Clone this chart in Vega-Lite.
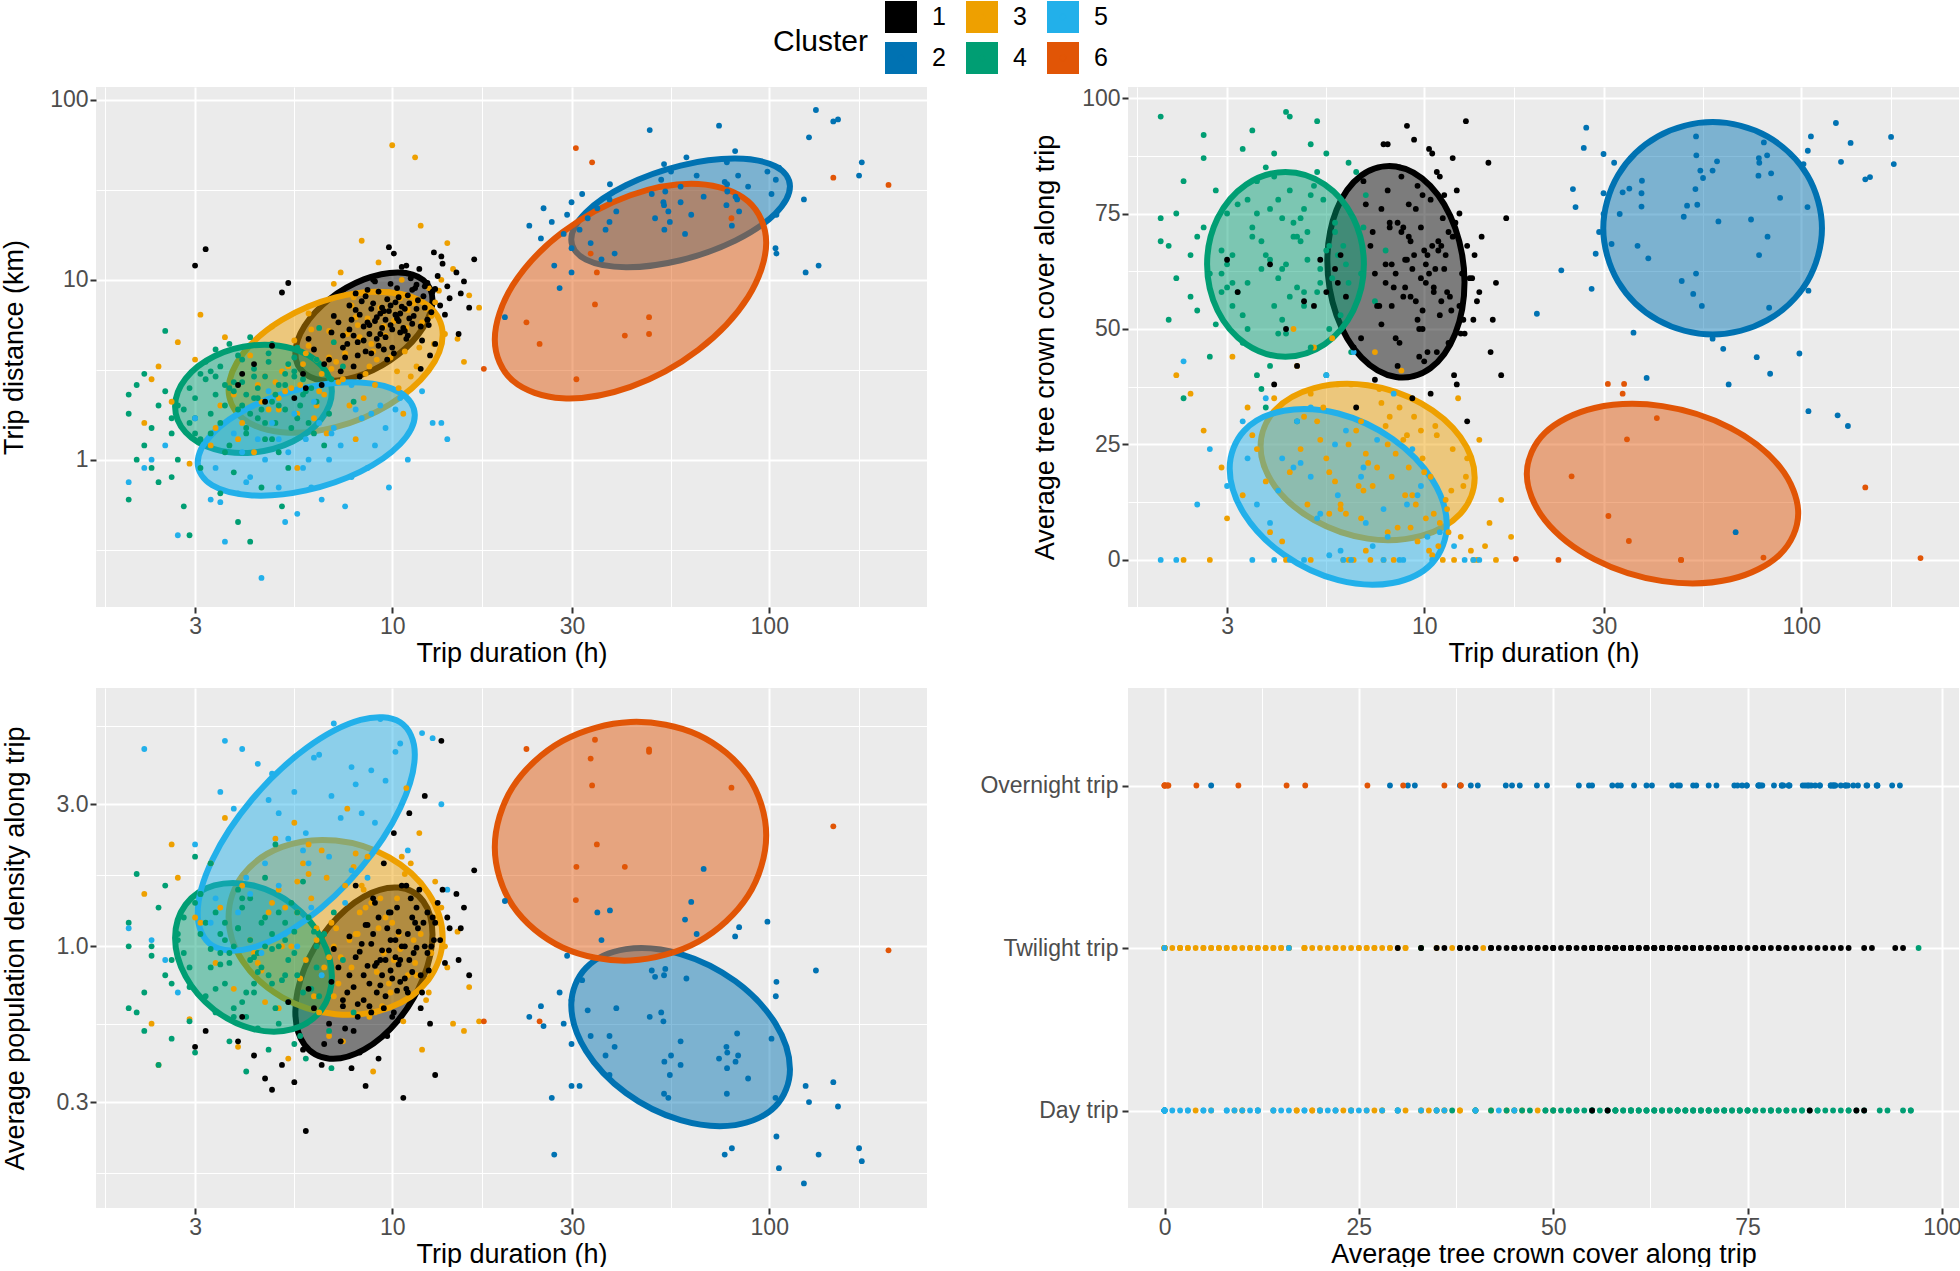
{
"$schema": "https://vega.github.io/schema/vega-lite/v6.json",
"background": "#FFFFFF",
"padding": {"left": 0, "top": 1, "right": 0, "bottom": 0},
"autosize": {"type": "pad"},
"columns": 2,
"spacing": {"row": 81, "column": 201},
"bounds": "flush",
"datasets": {
"ellA": [
{"cl":"1","i":0,"dur":12.79,"km":7.717},{"cl":"1","i":1,"dur":12.09,"km":9.98},{"cl":"1","i":2,"dur":10.38,"km":11.0},{"cl":"1","i":3,"dur":8.414,"km":10.06},{"cl":"1","i":4,"dur":6.823,"km":7.824},{"cl":"1","i":5,"dur":5.853,"km":5.533},{"cl":"1","i":6,"dur":5.534,"km":3.904},{"cl":"1","i":7,"dur":5.853,"km":3.017},{"cl":"1","i":8,"dur":6.823,"km":2.737},{"cl":"1","i":9,"dur":8.414,"km":2.993},{"cl":"1","i":10,"dur":10.38,"km":3.85},{"cl":"1","i":11,"dur":12.09,"km":5.445},
{"cl":"2","i":0,"dur":113.5,"km":33.11},{"cl":"2","i":1,"dur":103.8,"km":42.83},{"cl":"2","i":2,"dur":81.28,"km":47.21},{"cl":"2","i":3,"dur":58.21,"km":43.18},{"cl":"2","i":4,"dur":41.69,"km":33.57},{"cl":"2","i":5,"dur":32.66,"km":23.74},{"cl":"2","i":6,"dur":29.85,"km":16.75},{"cl":"2","i":7,"dur":32.66,"km":12.95},{"cl":"2","i":8,"dur":41.69,"km":11.75},{"cl":"2","i":9,"dur":58.21,"km":12.85},{"cl":"2","i":10,"dur":81.28,"km":16.52},{"cl":"2","i":11,"dur":103.8,"km":23.36},
{"cl":"3","i":0,"dur":13.61,"km":4.95},{"cl":"3","i":1,"dur":12.47,"km":7.155},{"cl":"3","i":2,"dur":9.817,"km":8.525},{"cl":"3","i":3,"dur":7.079,"km":7.992},{"cl":"3","i":4,"dur":5.105,"km":5.996},{"cl":"3","i":5,"dur":4.019,"km":3.889},{"cl":"3","i":6,"dur":3.681,"km":2.448},{"cl":"3","i":7,"dur":4.019,"km":1.693},{"cl":"3","i":8,"dur":5.105,"km":1.421},{"cl":"3","i":9,"dur":7.079,"km":1.516},{"cl":"3","i":10,"dur":9.817,"km":2.021},{"cl":"3","i":11,"dur":12.47,"km":3.116},
{"cl":"4","i":0,"dur":6.918,"km":2.399},{"cl":"4","i":1,"dur":6.487,"km":3.337},{"cl":"4","i":2,"dur":5.445,"km":4.14},{"cl":"4","i":3,"dur":4.285,"km":4.323},{"cl":"4","i":4,"dur":3.373,"km":3.756},{"cl":"4","i":5,"dur":2.831,"km":2.82},{"cl":"4","i":6,"dur":2.655,"km":1.976},{"cl":"4","i":7,"dur":2.831,"km":1.42},{"cl":"4","i":8,"dur":3.373,"km":1.144},{"cl":"4","i":9,"dur":4.285,"km":1.096},{"cl":"4","i":10,"dur":5.445,"km":1.261},{"cl":"4","i":11,"dur":6.487,"km":1.68},
{"cl":"5","i":0,"dur":11.48,"km":1.769},{"cl":"5","i":1,"dur":10.5,"km":2.361},{"cl":"5","i":2,"dur":8.241,"km":2.687},{"cl":"5","i":3,"dur":5.916,"km":2.52},{"cl":"5","i":4,"dur":4.246,"km":1.981},{"cl":"5","i":5,"dur":3.332,"km":1.392},{"cl":"5","i":6,"dur":3.048,"km":0.9614},{"cl":"5","i":7,"dur":3.332,"km":0.7204},{"cl":"5","i":8,"dur":4.246,"km":0.6329},{"cl":"5","i":9,"dur":5.916,"km":0.6749},{"cl":"5","i":10,"dur":8.241,"km":0.8584},{"cl":"5","i":11,"dur":10.5,"km":1.222},
{"cl":"6","i":0,"dur":98.17,"km":16.08},{"cl":"6","i":1,"dur":87.86,"km":27.34},{"cl":"6","i":2,"dur":64.86,"km":34.16},{"cl":"6","i":3,"dur":42.85,"km":29.55},{"cl":"6","i":4,"dur":28.31,"km":18.4},{"cl":"6","i":5,"dur":20.9,"km":9.363},{"cl":"6","i":6,"dur":18.71,"km":4.665},{"cl":"6","i":7,"dur":20.9,"km":2.743},{"cl":"6","i":8,"dur":28.31,"km":2.195},{"cl":"6","i":9,"dur":42.85,"km":2.537},{"cl":"6","i":10,"dur":64.86,"km":4.075},{"cl":"6","i":11,"dur":87.86,"km":8.009}
],
"ellB": [
{"cl":"1","i":0,"dur":12.79,"tree":60.1},{"cl":"1","i":1,"dur":12.09,"tree":71.8},{"cl":"1","i":2,"dur":10.38,"tree":81.0},{"cl":"1","i":3,"dur":8.414,"tree":85.2},{"cl":"1","i":4,"dur":6.823,"tree":83.3},{"cl":"1","i":5,"dur":5.853,"tree":75.8},{"cl":"1","i":6,"dur":5.534,"tree":64.7},{"cl":"1","i":7,"dur":5.853,"tree":53.0},{"cl":"1","i":8,"dur":6.823,"tree":43.8},{"cl":"1","i":9,"dur":8.414,"tree":39.6},{"cl":"1","i":10,"dur":10.38,"tree":41.5},{"cl":"1","i":11,"dur":12.09,"tree":49.0},
{"cl":"2","i":0,"dur":113.5,"tree":71.8},{"cl":"2","i":1,"dur":103.8,"tree":83.3},{"cl":"2","i":2,"dur":81.28,"tree":91.7},{"cl":"2","i":3,"dur":58.21,"tree":94.8},{"cl":"2","i":4,"dur":41.69,"tree":91.7},{"cl":"2","i":5,"dur":32.66,"tree":83.3},{"cl":"2","i":6,"dur":29.85,"tree":71.8},{"cl":"2","i":7,"dur":32.66,"tree":60.3},{"cl":"2","i":8,"dur":41.69,"tree":51.9},{"cl":"2","i":9,"dur":58.21,"tree":48.8},{"cl":"2","i":10,"dur":81.28,"tree":51.9},{"cl":"2","i":11,"dur":103.8,"tree":60.3},
{"cl":"3","i":0,"dur":13.61,"tree":17.8},{"cl":"3","i":1,"dur":12.47,"tree":26.6},{"cl":"3","i":2,"dur":9.817,"tree":33.9},{"cl":"3","i":3,"dur":7.079,"tree":37.8},{"cl":"3","i":4,"dur":5.105,"tree":37.2},{"cl":"3","i":5,"dur":4.019,"tree":32.4},{"cl":"3","i":6,"dur":3.681,"tree":24.6},{"cl":"3","i":7,"dur":4.019,"tree":15.9},{"cl":"3","i":8,"dur":5.105,"tree":8.6},{"cl":"3","i":9,"dur":7.079,"tree":4.6},{"cl":"3","i":10,"dur":9.817,"tree":5.2},{"cl":"3","i":11,"dur":12.47,"tree":10.0},
{"cl":"4","i":0,"dur":6.918,"tree":64.0},{"cl":"4","i":1,"dur":6.487,"tree":74.0},{"cl":"4","i":2,"dur":5.445,"tree":81.3},{"cl":"4","i":3,"dur":4.285,"tree":84.0},{"cl":"4","i":4,"dur":3.373,"tree":81.3},{"cl":"4","i":5,"dur":2.831,"tree":74.0},{"cl":"4","i":6,"dur":2.655,"tree":64.0},{"cl":"4","i":7,"dur":2.831,"tree":54.0},{"cl":"4","i":8,"dur":3.373,"tree":46.7},{"cl":"4","i":9,"dur":4.285,"tree":44.0},{"cl":"4","i":10,"dur":5.445,"tree":46.7},{"cl":"4","i":11,"dur":6.487,"tree":54.0},
{"cl":"5","i":0,"dur":11.48,"tree":7.6},{"cl":"5","i":1,"dur":10.5,"tree":17.4},{"cl":"5","i":2,"dur":8.241,"tree":26.2},{"cl":"5","i":3,"dur":5.916,"tree":31.7},{"cl":"5","i":4,"dur":4.246,"tree":32.3},{"cl":"5","i":5,"dur":3.332,"tree":28.0},{"cl":"5","i":6,"dur":3.048,"tree":19.8},{"cl":"5","i":7,"dur":3.332,"tree":9.9},{"cl":"5","i":8,"dur":4.246,"tree":1.1},{"cl":"5","i":9,"dur":5.916,"tree":-4.4},{"cl":"5","i":10,"dur":8.241,"tree":-5.0},{"cl":"5","i":11,"dur":10.5,"tree":-0.7},
{"cl":"6","i":0,"dur":98.17,"tree":10.1},{"cl":"6","i":1,"dur":87.86,"tree":20.1},{"cl":"6","i":2,"dur":64.86,"tree":28.6},{"cl":"6","i":3,"dur":42.85,"tree":33.3},{"cl":"6","i":4,"dur":28.31,"tree":32.9},{"cl":"6","i":5,"dur":20.9,"tree":27.5},{"cl":"6","i":6,"dur":18.71,"tree":18.6},{"cl":"6","i":7,"dur":20.9,"tree":8.6},{"cl":"6","i":8,"dur":28.31,"tree":0.1},{"cl":"6","i":9,"dur":42.85,"tree":-4.6},{"cl":"6","i":10,"dur":64.86,"tree":-4.2},{"cl":"6","i":11,"dur":87.86,"tree":1.2}
],
"ellC": [
{"cl":"1","i":0,"dur":12.79,"pop":1.096},{"cl":"1","i":1,"dur":12.09,"pop":1.416},{"cl":"1","i":2,"dur":10.38,"pop":1.576},{"cl":"1","i":3,"dur":8.414,"pop":1.47},{"cl":"1","i":4,"dur":6.823,"pop":1.169},{"cl":"1","i":5,"dur":5.853,"pop":0.8443},{"cl":"1","i":6,"dur":5.534,"pop":0.6035},{"cl":"1","i":7,"dur":5.853,"pop":0.4672},{"cl":"1","i":8,"dur":6.823,"pop":0.4197},{"cl":"1","i":9,"dur":8.414,"pop":0.4499},{"cl":"1","i":10,"dur":10.38,"pop":0.5655},{"cl":"1","i":11,"dur":12.09,"pop":0.7834},
{"cl":"2","i":0,"dur":113.5,"pop":0.3871},{"cl":"2","i":1,"dur":103.8,"pop":0.5514},{"cl":"2","i":2,"dur":81.28,"pop":0.7641},{"cl":"2","i":3,"dur":58.21,"pop":0.9426},{"cl":"2","i":4,"dur":41.69,"pop":0.9788},{"cl":"2","i":5,"dur":32.66,"pop":0.8472},{"cl":"2","i":6,"dur":29.85,"pop":0.6352},{"cl":"2","i":7,"dur":32.66,"pop":0.4457},{"cl":"2","i":8,"dur":41.69,"pop":0.3218},{"cl":"2","i":9,"dur":58.21,"pop":0.2608},{"cl":"2","i":10,"dur":81.28,"pop":0.2511},{"cl":"2","i":11,"dur":103.8,"pop":0.2902},
{"cl":"3","i":0,"dur":13.61,"pop":1.068},{"cl":"3","i":1,"dur":12.47,"pop":1.51},{"cl":"3","i":2,"dur":9.817,"pop":1.989},{"cl":"3","i":3,"dur":7.079,"pop":2.266},{"cl":"3","i":4,"dur":5.105,"pop":2.157},{"cl":"3","i":5,"dur":4.019,"pop":1.738},{"cl":"3","i":6,"dur":3.681,"pop":1.256},{"cl":"3","i":7,"dur":4.019,"pop":0.8884},{"cl":"3","i":8,"dur":5.105,"pop":0.6745},{"cl":"3","i":9,"dur":7.079,"pop":0.5921},{"cl":"3","i":10,"dur":9.817,"pop":0.6221},{"cl":"3","i":11,"dur":12.47,"pop":0.7721},
{"cl":"4","i":0,"dur":6.918,"pop":0.7917},{"cl":"4","i":1,"dur":6.487,"pop":1.066},{"cl":"4","i":2,"dur":5.445,"pop":1.38},{"cl":"4","i":3,"dur":4.285,"pop":1.601},{"cl":"4","i":4,"dur":3.373,"pop":1.602},{"cl":"4","i":5,"dur":2.831,"pop":1.381},{"cl":"4","i":6,"dur":2.655,"pop":1.067},{"cl":"4","i":7,"dur":2.831,"pop":0.7928},{"cl":"4","i":8,"dur":3.373,"pop":0.6125},{"cl":"4","i":9,"dur":4.285,"pop":0.5276},{"cl":"4","i":10,"dur":5.445,"pop":0.5274},{"cl":"4","i":11,"dur":6.487,"pop":0.6118},
{"cl":"5","i":0,"dur":11.48,"pop":4.411},{"cl":"5","i":1,"dur":10.5,"pop":5.655},{"cl":"5","i":2,"dur":8.241,"pop":5.757},{"cl":"5","i":3,"dur":5.916,"pop":4.628},{"cl":"5","i":4,"dur":4.246,"pop":3.113},{"cl":"5","i":5,"dur":3.332,"pop":1.951},{"cl":"5","i":6,"dur":3.048,"pop":1.29},{"cl":"5","i":7,"dur":3.332,"pop":1.006},{"cl":"5","i":8,"dur":4.246,"pop":0.9879},{"cl":"5","i":9,"dur":5.916,"pop":1.229},{"cl":"5","i":10,"dur":8.241,"pop":1.827},{"cl":"5","i":11,"dur":10.5,"pop":2.916},
{"cl":"6","i":0,"dur":98.17,"pop":2.361},{"cl":"6","i":1,"dur":87.86,"pop":3.721},{"cl":"6","i":2,"dur":64.86,"pop":5.126},{"cl":"6","i":3,"dur":42.85,"pop":5.667},{"cl":"6","i":4,"dur":28.31,"pop":4.896},{"cl":"6","i":5,"dur":20.9,"pop":3.435},{"cl":"6","i":6,"dur":18.71,"pop":2.152},{"cl":"6","i":7,"dur":20.9,"pop":1.366},{"cl":"6","i":8,"dur":28.31,"pop":0.9913},{"cl":"6","i":9,"dur":42.85,"pop":0.8965},{"cl":"6","i":10,"dur":64.86,"pop":1.038},{"cl":"6","i":11,"dur":87.86,"pop":1.48}
],
"trips": [
{"cl":"3","dur":7.1,"km":3.5,"tree":21,"pop":1.15,"trip":"Twilight trip"},
{"cl":"3","dur":5.2,"km":2.4,"tree":30,"pop":1.35,"trip":"Day trip"},
{"cl":"3","dur":9.5,"km":5.5,"tree":12,"pop":0.95,"trip":"Twilight trip"},
{"cl":"3","dur":11.0,"km":6.8,"tree":8,"pop":0.8,"trip":"Twilight trip"},
{"cl":"3","dur":4.0,"km":1.6,"tree":35,"pop":1.6,"trip":"Day trip"},
{"cl":"3","dur":6.3,"km":2.0,"tree":25,"pop":1.05,"trip":"Twilight trip"},
{"cl":"3","dur":8.2,"km":4.8,"tree":18,"pop":1.3,"trip":"Twilight trip"},
{"cl":"3","dur":12.5,"km":9.0,"tree":5,"pop":0.7,"trip":"Twilight trip"},
{"cl":"3","dur":3.3,"km":1.2,"tree":14,"pop":1.9,"trip":"Day trip"},
{"cl":"3","dur":2.6,"km":2.1,"tree":28,"pop":2.2,"trip":"Day trip"},
{"cl":"3","dur":5.9,"km":3.9,"tree":38,"pop":0.9,"trip":"Day trip"},
{"cl":"3","dur":10.3,"km":3.1,"tree":2,"pop":1.45,"trip":"Twilight trip"},
{"cl":"3","dur":7.8,"km":7.2,"tree":0,"pop":0.85,"trip":"Twilight trip"},
{"cl":"3","dur":4.6,"km":2.9,"tree":42,"pop":0.65,"trip":"Day trip"},
{"cl":"3","dur":13.8,"km":5.0,"tree":0,"pop":1.0,"trip":"Twilight trip"},
{"cl":"3","dur":6.7,"km":1.4,"tree":16,"pop":1.7,"trip":"Twilight trip"},
{"cl":"3","dur":9.0,"km":2.6,"tree":27,"pop":0.6,"trip":"Twilight trip"},
{"cl":"3","dur":3.0,"km":3.6,"tree":9,"pop":1.25,"trip":"Day trip"},
{"cl":"3","dur":14.5,"km":11.5,"tree":3,"pop":0.55,"trip":"Twilight trip"},
{"cl":"3","dur":8.6,"km":6.1,"tree":33,"pop":2.0,"trip":"Twilight trip"},
{"cl":"3","dur":5.5,"km":4.6,"tree":22,"pop":2.6,"trip":"Day trip"},
{"cl":"3","dur":11.8,"km":4.2,"tree":15,"pop":2.4,"trip":"Twilight trip"},
{"cl":"3","dur":4.3,"km":1.1,"tree":0,"pop":0.95,"trip":"Day trip"},
{"cl":"3","dur":2.2,"km":1.6,"tree":40,"pop":1.5,"trip":"Day trip"},
{"cl":"3","dur":7.4,"km":2.8,"tree":45,"pop":0.48,"trip":"Day trip"},
{"cl":"3","dur":10.0,"km":56,"tree":19,"pop":1.2,"trip":"Twilight trip"},
{"cl":"3","dur":11.5,"km":48,"tree":11,"pop":0.88,"trip":"Twilight trip"},
{"cl":"3","dur":3.6,"km":4.8,"tree":24,"pop":2.7,"trip":"Day trip"},
{"cl":"3","dur":2.4,"km":3.3,"tree":36,"pop":0.4,"trip":"Day trip"},
{"cl":"3","dur":12.0,"km":5.8,"tree":0,"pop":0.45,"trip":"Twilight trip"},
{"cl":"3","dur":15.5,"km":3.5,"tree":0,"pop":0.52,"trip":"Twilight trip"},
{"cl":"3","dur":6.0,"km":6.5,"tree":12,"pop":1.75,"trip":"Twilight trip"},
{"cl":"3","dur":9.8,"km":8.5,"tree":28,"pop":0.75,"trip":"Twilight trip"},
{"cl":"3","dur":5.0,"km":1.9,"tree":0,"pop":0.62,"trip":"Day trip"},
{"cl":"3","dur":8.0,"km":1.3,"tree":6,"pop":1.1,"trip":"Twilight trip"},
{"cl":"3","dur":4.8,"km":5.5,"tree":31,"pop":1.4,"trip":"Day trip"},
{"cl":"3","dur":13.0,"km":7.5,"tree":22,"pop":1.65,"trip":"Twilight trip"},
{"cl":"3","dur":7.0,"km":9.5,"tree":2,"pop":1.0,"trip":"Twilight trip"},
{"cl":"3","dur":3.8,"km":2.3,"tree":17,"pop":0.72,"trip":"Day trip"},
{"cl":"3","dur":10.7,"km":1.8,"tree":29,"pop":0.56,"trip":"Twilight trip"},
{"cl":"3","dur":6.5,"km":3.0,"tree":0,"pop":2.1,"trip":"Twilight trip"},
{"cl":"3","dur":2.9,"km":0.95,"tree":20,"pop":0.57,"trip":"Day trip"},
{"cl":"3","dur":9.2,"km":12.5,"tree":7,"pop":1.15,"trip":"Twilight trip"},
{"cl":"3","dur":14.0,"km":16,"tree":26,"pop":0.85,"trip":"Twilight trip"},
{"cl":"3","dur":5.7,"km":2.6,"tree":48,"pop":0.78,"trip":"Day trip"},
{"cl":"3","dur":8.9,"km":4.0,"tree":14,"pop":0.38,"trip":"Twilight trip"},
{"cl":"3","dur":4.2,"km":3.8,"tree":4,"pop":1.05,"trip":"Day trip"},
{"cl":"3","dur":11.2,"km":2.9,"tree":0,"pop":1.9,"trip":"Twilight trip"},
{"cl":"3","dur":7.6,"km":5.0,"tree":37,"pop":2.9,"trip":"Twilight trip"},
{"cl":"3","dur":6.2,"km":1.7,"tree":10,"pop":0.68,"trip":"Day trip"},
{"cl":"3","dur":12.9,"km":4.4,"tree":18,"pop":1.25,"trip":"Twilight trip"},
{"cl":"3","dur":3.1,"km":6.4,"tree":44,"pop":1.2,"trip":"Day trip"},
{"cl":"3","dur":10.5,"km":7.9,"tree":1,"pop":0.98,"trip":"Twilight trip"},
{"cl":"3","dur":5.3,"km":3.3,"tree":26,"pop":0.42,"trip":"Day trip"},
{"cl":"3","dur":16.0,"km":8.2,"tree":13,"pop":0.73,"trip":"Twilight trip"},
{"cl":"3","dur":8.4,"km":2.2,"tree":23,"pop":1.55,"trip":"Twilight trip"},
{"cl":"3","dur":4.5,"km":2.1,"tree":50,"pop":0.83,"trip":"Day trip"},
{"cl":"3","dur":9.4,"km":6.6,"tree":31,"pop":0.63,"trip":"Twilight trip"},
{"cl":"3","dur":2.7,"km":4.5,"tree":0,"pop":1.7,"trip":"Day trip"},
{"cl":"3","dur":7.3,"km":11.0,"tree":16,"pop":0.92,"trip":"Twilight trip"},
{"cl":"3","dur":13.5,"km":10.0,"tree":0,"pop":1.35,"trip":"Twilight trip"},
{"cl":"3","dur":6.8,"km":3.7,"tree":9,"pop":0.5,"trip":"Twilight trip"},
{"cl":"3","dur":3.4,"km":1.5,"tree":33,"pop":0.88,"trip":"Day trip"},
{"cl":"3","dur":11.9,"km":20,"tree":24,"pop":1.1,"trip":"Twilight trip"},
{"cl":"3","dur":5.6,"km":0.9,"tree":19,"pop":1.3,"trip":"Day trip"},
{"cl":"3","dur":8.7,"km":3.3,"tree":41,"pop":0.58,"trip":"Twilight trip"},
{"cl":"3","dur":10.9,"km":5.4,"tree":3,"pop":3.4,"trip":"Twilight trip"},
{"cl":"3","dur":4.9,"km":2.7,"tree":12,"pop":2.3,"trip":"Day trip"},
{"cl":"3","dur":7.9,"km":8.0,"tree":29,"pop":1.85,"trip":"Twilight trip"},
{"cl":"3","dur":12.3,"km":6.9,"tree":35,"pop":0.66,"trip":"Twilight trip"},
{"cl":"3","dur":6.1,"km":5.3,"tree":0,"pop":1.45,"trip":"Twilight trip"},
{"cl":"3","dur":9.1,"km":3.6,"tree":20,"pop":0.82,"trip":"Day trip"},
{"cl":"3","dur":3.9,"km":1.3,"tree":6,"pop":0.46,"trip":"Day trip"},
{"cl":"3","dur":14.9,"km":4.7,"tree":8,"pop":1.12,"trip":"Twilight trip"},
{"cl":"3","dur":5.1,"km":3.1,"tree":46,"pop":1.0,"trip":"Day trip"},
{"cl":"3","dur":8.3,"km":16.5,"tree":0,"pop":1.6,"trip":"Twilight trip"},
{"cl":"3","dur":2.3,"km":2.8,"tree":0,"pop":0.55,"trip":"Day trip"},
{"cl":"3","dur":10.6,"km":10.0,"tree":10,"pop":2.0,"trip":"Twilight trip"},
{"cl":"3","dur":6.4,"km":2.4,"tree":38,"pop":0.6,"trip":"Day trip"},
{"cl":"3","dur":17.0,"km":7.0,"tree":5,"pop":0.56,"trip":"Twilight trip"},
{"cl":"3","dur":6.9,"km":3.2,"tree":15,"pop":1.2,"trip":"Twilight trip"},
{"cl":"3","dur":8.8,"km":4.4,"tree":26,"pop":1.4,"trip":"Twilight trip"},
{"cl":"3","dur":5.4,"km":2.5,"tree":33,"pop":1.0,"trip":"Day trip"},
{"cl":"3","dur":10.1,"km":5.9,"tree":9,"pop":0.9,"trip":"Twilight trip"},
{"cl":"3","dur":7.5,"km":3.9,"tree":20,"pop":1.6,"trip":"Twilight trip"},
{"cl":"3","dur":6.6,"km":2.3,"tree":28,"pop":0.85,"trip":"Day trip"},
{"cl":"3","dur":9.6,"km":4.9,"tree":4,"pop":1.25,"trip":"Twilight trip"},
{"cl":"3","dur":5.8,"km":3.4,"tree":17,"pop":1.9,"trip":"Day trip"},
{"cl":"3","dur":11.4,"km":7.4,"tree":13,"pop":1.05,"trip":"Twilight trip"},
{"cl":"3","dur":4.7,"km":1.9,"tree":24,"pop":1.3,"trip":"Day trip"},
{"cl":"3","dur":8.1,"km":5.6,"tree":31,"pop":1.1,"trip":"Twilight trip"},
{"cl":"3","dur":7.2,"km":2.7,"tree":0,"pop":0.75,"trip":"Twilight trip"},
{"cl":"3","dur":6.0,"km":4.3,"tree":11,"pop":2.2,"trip":"Twilight trip"},
{"cl":"3","dur":9.9,"km":3.7,"tree":22,"pop":0.7,"trip":"Twilight trip"},
{"cl":"3","dur":12.7,"km":6.3,"tree":16,"pop":0.95,"trip":"Twilight trip"},
{"cl":"3","dur":5.0,"km":2.2,"tree":36,"pop":1.55,"trip":"Day trip"},
{"cl":"3","dur":8.5,"km":3.0,"tree":7,"pop":1.35,"trip":"Twilight trip"},
{"cl":"3","dur":7.0,"km":4.5,"tree":23,"pop":0.68,"trip":"Day trip"},
{"cl":"3","dur":10.8,"km":4.0,"tree":27,"pop":1.75,"trip":"Twilight trip"},
{"cl":"3","dur":6.3,"km":3.6,"tree":0,"pop":1.15,"trip":"Twilight trip"},
{"cl":"3","dur":4.4,"km":2.6,"tree":19,"pop":0.88,"trip":"Day trip"},
{"cl":"3","dur":9.3,"km":7.0,"tree":14,"pop":1.45,"trip":"Twilight trip"},
{"cl":"3","dur":7.7,"km":2.0,"tree":34,"pop":1.05,"trip":"Day trip"},
{"cl":"3","dur":11.6,"km":3.3,"tree":6,"pop":0.8,"trip":"Twilight trip"},
{"cl":"3","dur":5.6,"km":1.8,"tree":10,"pop":1.65,"trip":"Day trip"},
{"cl":"3","dur":8.0,"km":6.2,"tree":25,"pop":2.05,"trip":"Twilight trip"},
{"cl":"3","dur":13.3,"km":8.7,"tree":2,"pop":1.2,"trip":"Twilight trip"},
{"cl":"3","dur":6.8,"km":5.2,"tree":30,"pop":0.92,"trip":"Twilight trip"},
{"cl":"3","dur":10.4,"km":2.5,"tree":18,"pop":1.1,"trip":"Twilight trip"},
{"cl":"3","dur":3.5,"km":2.0,"tree":27,"pop":1.35,"trip":"Day trip"},
{"cl":"4","dur":4.3,"km":2.2,"tree":64,"pop":0.92,"trip":"Day trip"},
{"cl":"4","dur":3.5,"km":1.6,"tree":72,"pop":1.1,"trip":"Day trip"},
{"cl":"4","dur":5.2,"km":3.0,"tree":58,"pop":0.8,"trip":"Day trip"},
{"cl":"4","dur":2.8,"km":1.9,"tree":80,"pop":1.25,"trip":"Day trip"},
{"cl":"4","dur":6.1,"km":2.5,"tree":68,"pop":0.72,"trip":"Day trip"},
{"cl":"4","dur":4.0,"km":3.6,"tree":55,"pop":0.65,"trip":"Day trip"},
{"cl":"4","dur":3.1,"km":0.9,"tree":66,"pop":1.5,"trip":"Day trip"},
{"cl":"4","dur":4.8,"km":1.3,"tree":76,"pop":0.98,"trip":"Day trip"},
{"cl":"4","dur":5.6,"km":4.2,"tree":50,"pop":1.3,"trip":"Day trip"},
{"cl":"4","dur":2.2,"km":1.2,"tree":61,"pop":0.7,"trip":"Day trip"},
{"cl":"4","dur":3.8,"km":2.7,"tree":85,"pop":0.58,"trip":"Day trip"},
{"cl":"4","dur":6.8,"km":1.8,"tree":62,"pop":0.52,"trip":"Day trip"},
{"cl":"4","dur":2.5,"km":2.4,"tree":54,"pop":1.6,"trip":"Day trip"},
{"cl":"4","dur":4.5,"km":0.7,"tree":70,"pop":1.2,"trip":"Day trip"},
{"cl":"4","dur":3.3,"km":3.1,"tree":47,"pop":0.85,"trip":"Day trip"},
{"cl":"4","dur":5.0,"km":2.0,"tree":90,"pop":0.55,"trip":"Day trip"},
{"cl":"4","dur":2.0,"km":0.6,"tree":74,"pop":0.62,"trip":"Day trip"},
{"cl":"4","dur":4.2,"km":4.8,"tree":63,"pop":1.05,"trip":"Day trip"},
{"cl":"4","dur":7.4,"km":3.3,"tree":56,"pop":0.9,"trip":"Day trip"},
{"cl":"4","dur":3.6,"km":1.1,"tree":40,"pop":0.75,"trip":"Day trip"},
{"cl":"4","dur":2.6,"km":0.8,"tree":87,"pop":0.49,"trip":"Day trip"},
{"cl":"4","dur":5.4,"km":1.5,"tree":78,"pop":1.4,"trip":"Day trip"},
{"cl":"4","dur":3.0,"km":2.2,"tree":59,"pop":2.0,"trip":"Day trip"},
{"cl":"4","dur":4.7,"km":3.9,"tree":69,"pop":0.45,"trip":"Day trip"},
{"cl":"4","dur":2.3,"km":1.5,"tree":82,"pop":0.93,"trip":"Day trip"},
{"cl":"4","dur":6.4,"km":5.4,"tree":45,"pop":0.68,"trip":"Day trip"},
{"cl":"4","dur":3.9,"km":0.45,"tree":65,"pop":1.15,"trip":"Day trip"},
{"cl":"4","dur":5.8,"km":2.8,"tree":73,"pop":1.65,"trip":"Day trip"},
{"cl":"4","dur":2.1,"km":2.6,"tree":52,"pop":1.75,"trip":"Day trip"},
{"cl":"4","dur":4.4,"km":1.7,"tree":96,"pop":0.82,"trip":"Day trip"},
{"cl":"4","dur":3.4,"km":4.1,"tree":60,"pop":0.6,"trip":"Day trip"},
{"cl":"4","dur":7.9,"km":2.1,"tree":67,"pop":0.6,"trip":"Day trip"},
{"cl":"4","dur":2.7,"km":1.0,"tree":44,"pop":1.05,"trip":"Day trip"},
{"cl":"4","dur":5.1,"km":0.55,"tree":81,"pop":0.77,"trip":"Day trip"},
{"cl":"4","dur":3.7,"km":2.5,"tree":37,"pop":0.48,"trip":"Day trip"},
{"cl":"4","dur":4.9,"km":2.3,"tree":71,"pop":2.2,"trip":"Day trip"},
{"cl":"4","dur":2.4,"km":0.75,"tree":57,"pop":1.35,"trip":"Day trip"},
{"cl":"4","dur":6.6,"km":1.2,"tree":84,"pop":1.1,"trip":"Day trip"},
{"cl":"4","dur":3.2,"km":3.5,"tree":77,"pop":0.68,"trip":"Day trip"},
{"cl":"4","dur":4.1,"km":1.4,"tree":49,"pop":0.38,"trip":"Day trip"},
{"cl":"4","dur":2.9,"km":0.38,"tree":62,"pop":0.56,"trip":"Day trip"},
{"cl":"4","dur":5.5,"km":3.7,"tree":88,"pop":0.95,"trip":"Day trip"},
{"cl":"4","dur":2.0,"km":1.8,"tree":69,"pop":1.2,"trip":"Day trip"},
{"cl":"4","dur":4.6,"km":2.9,"tree":30,"pop":1.0,"trip":"Day trip"},
{"cl":"4","dur":3.5,"km":0.65,"tree":93,"pop":0.87,"trip":"Day trip"},
{"cl":"4","dur":6.0,"km":1.6,"tree":53,"pop":1.25,"trip":"Day trip"},
{"cl":"4","dur":2.2,"km":3.0,"tree":75,"pop":0.52,"trip":"Day trip"},
{"cl":"4","dur":4.0,"km":2.0,"tree":83,"pop":1.45,"trip":"Day trip"},
{"cl":"4","dur":3.0,"km":1.4,"tree":64,"pop":0.44,"trip":"Day trip"},
{"cl":"4","dur":5.3,"km":0.9,"tree":60,"pop":0.65,"trip":"Day trip"},
{"cl":"4","dur":2.5,"km":5.2,"tree":70,"pop":0.8,"trip":"Day trip"},
{"cl":"4","dur":7.0,"km":4.5,"tree":79,"pop":1.3,"trip":"Day trip"},
{"cl":"4","dur":3.9,"km":1.9,"tree":42,"pop":1.55,"trip":"Day trip"},
{"cl":"4","dur":4.3,"km":3.2,"tree":97,"pop":0.7,"trip":"Twilight trip"},
{"cl":"4","dur":2.8,"km":0.55,"tree":51,"pop":0.95,"trip":"Day trip"},
{"cl":"4","dur":5.9,"km":2.4,"tree":66,"pop":0.42,"trip":"Day trip"},
{"cl":"4","dur":3.3,"km":1.8,"tree":89,"pop":1.9,"trip":"Day trip"},
{"cl":"4","dur":2.3,"km":0.9,"tree":35,"pop":1.0,"trip":"Day trip"},
{"cl":"4","dur":4.8,"km":4.4,"tree":58,"pop":0.75,"trip":"Day trip"},
{"cl":"4","dur":6.9,"km":2.8,"tree":72,"pop":0.39,"trip":"Day trip"},
{"cl":"4","dur":3.6,"km":2.6,"tree":75,"pop":1.2,"trip":"Day trip"},
{"cl":"4","dur":2.1,"km":1.0,"tree":68,"pop":0.6,"trip":"Day trip"},
{"cl":"4","dur":5.0,"km":1.1,"tree":46,"pop":1.0,"trip":"Day trip"},
{"cl":"4","dur":4.4,"km":2.5,"tree":80,"pop":0.53,"trip":"Day trip"},
{"cl":"4","dur":3.1,"km":1.3,"tree":55,"pop":1.1,"trip":"Day trip"},
{"cl":"4","dur":2.6,"km":1.7,"tree":92,"pop":0.75,"trip":"Day trip"},
{"cl":"4","dur":5.7,"km":2.0,"tree":61,"pop":0.5,"trip":"Day trip"},
{"cl":"4","dur":4.2,"km":0.35,"tree":74,"pop":0.9,"trip":"Day trip"},
{"cl":"4","dur":3.4,"km":2.9,"tree":50,"pop":1.3,"trip":"Day trip"},
{"cl":"4","dur":6.3,"km":3.6,"tree":86,"pop":0.85,"trip":"Day trip"},
{"cl":"4","dur":2.4,"km":2.0,"tree":66,"pop":0.4,"trip":"Day trip"},
{"cl":"4","dur":4.6,"km":1.6,"tree":70,"pop":1.7,"trip":"Day trip"},
{"cl":"4","dur":3.7,"km":4.4,"tree":63,"pop":0.95,"trip":"Day trip"},
{"cl":"4","dur":5.2,"km":2.6,"tree":95,"pop":1.05,"trip":"Day trip"},
{"cl":"4","dur":2.9,"km":1.6,"tree":58,"pop":0.73,"trip":"Day trip"},
{"cl":"4","dur":3.8,"km":0.85,"tree":33,"pop":0.62,"trip":"Twilight trip"},
{"cl":"4","dur":4.1,"km":2.3,"tree":78,"pop":0.58,"trip":"Day trip"},
{"cl":"4","dur":6.2,"km":1.4,"tree":64,"pop":1.12,"trip":"Day trip"},
{"cl":"4","dur":2.0,"km":2.3,"tree":96,"pop":1.0,"trip":"Day trip"},
{"cl":"4","dur":5.5,"km":3.1,"tree":40,"pop":0.47,"trip":"Day trip"},
{"cl":"4","dur":3.8,"km":2.4,"tree":66,"pop":1.0,"trip":"Day trip"},
{"cl":"4","dur":4.5,"km":1.9,"tree":73,"pop":0.85,"trip":"Day trip"},
{"cl":"4","dur":3.2,"km":2.8,"tree":58,"pop":1.2,"trip":"Day trip"},
{"cl":"4","dur":5.0,"km":2.6,"tree":79,"pop":1.3,"trip":"Day trip"},
{"cl":"4","dur":4.1,"km":1.5,"tree":61,"pop":0.7,"trip":"Day trip"},
{"cl":"4","dur":3.5,"km":3.3,"tree":70,"pop":0.95,"trip":"Day trip"},
{"cl":"4","dur":4.8,"km":2.1,"tree":55,"pop":1.1,"trip":"Day trip"},
{"cl":"4","dur":5.6,"km":1.7,"tree":68,"pop":0.8,"trip":"Day trip"},
{"cl":"4","dur":3.0,"km":1.7,"tree":75,"pop":1.4,"trip":"Day trip"},
{"cl":"4","dur":4.3,"km":2.9,"tree":49,"pop":0.75,"trip":"Day trip"},
{"cl":"4","dur":3.6,"km":2.0,"tree":82,"pop":1.05,"trip":"Day trip"},
{"cl":"4","dur":5.3,"km":3.4,"tree":63,"pop":0.9,"trip":"Day trip"},
{"cl":"4","dur":2.9,"km":2.5,"tree":67,"pop":0.85,"trip":"Day trip"},
{"cl":"4","dur":4.6,"km":1.3,"tree":59,"pop":1.25,"trip":"Day trip"},
{"cl":"4","dur":3.9,"km":3.8,"tree":76,"pop":1.15,"trip":"Day trip"},
{"cl":"4","dur":5.8,"km":2.3,"tree":71,"pop":0.7,"trip":"Day trip"},
{"cl":"4","dur":3.3,"km":1.4,"tree":53,"pop":0.98,"trip":"Day trip"},
{"cl":"4","dur":4.0,"km":2.7,"tree":88,"pop":1.35,"trip":"Day trip"},
{"cl":"4","dur":4.9,"km":1.6,"tree":65,"pop":0.62,"trip":"Day trip"},
{"cl":"4","dur":3.1,"km":3.0,"tree":60,"pop":1.5,"trip":"Day trip"},
{"cl":"4","dur":4.4,"km":2.2,"tree":57,"pop":0.95,"trip":"Day trip"},
{"cl":"4","dur":5.2,"km":1.9,"tree":84,"pop":1.2,"trip":"Day trip"},
{"cl":"4","dur":3.7,"km":1.2,"tree":69,"pop":0.88,"trip":"Day trip"},
{"cl":"4","dur":2.7,"km":2.0,"tree":62,"pop":1.1,"trip":"Day trip"},
{"cl":"4","dur":4.7,"km":3.5,"tree":74,"pop":0.8,"trip":"Day trip"},
{"cl":"4","dur":6.3,"km":2.1,"tree":60,"pop":1.0,"trip":"Day trip"},
{"cl":"4","dur":3.4,"km":2.3,"tree":78,"pop":0.72,"trip":"Day trip"},
{"cl":"4","dur":4.2,"km":1.8,"tree":52,"pop":1.45,"trip":"Day trip"},
{"cl":"4","dur":5.5,"km":2.9,"tree":67,"pop":1.12,"trip":"Day trip"},
{"cl":"4","dur":2.6,"km":1.4,"tree":72,"pop":0.9,"trip":"Day trip"},
{"cl":"5","dur":5.9,"km":1.3,"tree":14,"pop":2.4,"trip":"Day trip"},
{"cl":"5","dur":4.2,"km":0.8,"tree":22,"pop":1.5,"trip":"Day trip"},
{"cl":"5","dur":8.0,"km":1.9,"tree":5,"pop":3.5,"trip":"Day trip"},
{"cl":"5","dur":3.3,"km":0.6,"tree":30,"pop":1.2,"trip":"Day trip"},
{"cl":"5","dur":10.5,"km":2.2,"tree":0,"pop":4.8,"trip":"Day trip"},
{"cl":"5","dur":6.8,"km":1.0,"tree":18,"pop":2.0,"trip":"Day trip"},
{"cl":"5","dur":2.3,"km":1.0,"tree":43,"pop":1.05,"trip":"Day trip"},
{"cl":"5","dur":4.8,"km":1.6,"tree":0,"pop":3.8,"trip":"Day trip"},
{"cl":"5","dur":7.5,"km":0.55,"tree":26,"pop":1.4,"trip":"Day trip"},
{"cl":"5","dur":12.0,"km":2.4,"tree":3,"pop":5.2,"trip":"Day trip"},
{"cl":"5","dur":3.8,"km":1.4,"tree":35,"pop":2.9,"trip":"Day trip"},
{"cl":"5","dur":5.2,"km":0.45,"tree":9,"pop":1.1,"trip":"Day trip"},
{"cl":"5","dur":9.0,"km":1.2,"tree":12,"pop":2.6,"trip":"Day trip"},
{"cl":"5","dur":2.0,"km":0.75,"tree":0,"pop":1.15,"trip":"Day trip"},
{"cl":"5","dur":6.2,"km":2.1,"tree":28,"pop":4.3,"trip":"Day trip"},
{"cl":"5","dur":3.6,"km":0.35,"tree":12,"pop":4.9,"trip":"Day trip"},
{"cl":"5","dur":8.6,"km":0.9,"tree":0,"pop":1.7,"trip":"Day trip"},
{"cl":"5","dur":4.5,"km":0.22,"tree":20,"pop":0.95,"trip":"Day trip"},
{"cl":"5","dur":13.5,"km":1.6,"tree":0,"pop":3.0,"trip":"Day trip"},
{"cl":"5","dur":5.5,"km":1.8,"tree":40,"pop":3.3,"trip":"Day trip"},
{"cl":"5","dur":2.7,"km":0.38,"tree":24,"pop":0.7,"trip":"Day trip"},
{"cl":"5","dur":7.0,"km":1.5,"tree":8,"pop":5.6,"trip":"Day trip"},
{"cl":"5","dur":4.0,"km":1.1,"tree":0,"pop":4.6,"trip":"Day trip"},
{"cl":"5","dur":9.8,"km":0.7,"tree":16,"pop":1.3,"trip":"Twilight trip"},
{"cl":"5","dur":3.0,"km":1.7,"tree":16,"pop":2.2,"trip":"Day trip"},
{"cl":"5","dur":6.5,"km":0.6,"tree":45,"pop":0.8,"trip":"Day trip"},
{"cl":"5","dur":11.0,"km":1.0,"tree":6,"pop":2.1,"trip":"Day trip"},
{"cl":"5","dur":4.7,"km":2.4,"tree":21,"pop":3.1,"trip":"Day trip"},
{"cl":"5","dur":2.5,"km":1.2,"tree":12,"pop":0.9,"trip":"Day trip"},
{"cl":"5","dur":7.8,"km":2.6,"tree":0,"pop":4.0,"trip":"Day trip"},
{"cl":"5","dur":5.0,"km":0.7,"tree":33,"pop":1.6,"trip":"Day trip"},
{"cl":"5","dur":14.0,"km":1.3,"tree":0,"pop":1.55,"trip":"Day trip"},
{"cl":"5","dur":3.5,"km":0.58,"tree":0,"pop":3.3,"trip":"Day trip"},
{"cl":"5","dur":6.0,"km":1.0,"tree":2,"pop":1.9,"trip":"Day trip"},
{"cl":"5","dur":8.3,"km":1.7,"tree":36,"pop":2.8,"trip":"Day trip"},
{"cl":"5","dur":4.4,"km":1.3,"tree":0,"pop":4.1,"trip":"Day trip"},
{"cl":"5","dur":2.2,"km":0.9,"tree":0,"pop":4.6,"trip":"Day trip"},
{"cl":"5","dur":9.3,"km":2.0,"tree":24,"pop":5.8,"trip":"Day trip"},
{"cl":"5","dur":5.6,"km":0.5,"tree":1,"pop":1.0,"trip":"Day trip"},
{"cl":"5","dur":12.8,"km":1.6,"tree":0,"pop":5.0,"trip":"Day trip"},
{"cl":"5","dur":5.3,"km":1.1,"tree":10,"pop":2.3,"trip":"Day trip"},
{"cl":"5","dur":6.9,"km":1.4,"tree":20,"pop":3.2,"trip":"Day trip"},
{"cl":"5","dur":4.1,"km":0.75,"tree":15,"pop":1.7,"trip":"Day trip"},
{"cl":"5","dur":8.8,"km":1.8,"tree":0,"pop":3.9,"trip":"Day trip"},
{"cl":"5","dur":5.8,"km":0.9,"tree":25,"pop":2.1,"trip":"Day trip"},
{"cl":"5","dur":7.3,"km":1.2,"tree":3,"pop":2.7,"trip":"Day trip"},
{"cl":"5","dur":3.9,"km":0.65,"tree":8,"pop":1.3,"trip":"Day trip"},
{"cl":"5","dur":9.6,"km":1.5,"tree":14,"pop":3.6,"trip":"Day trip"},
{"cl":"5","dur":6.4,"km":1.6,"tree":0,"pop":4.4,"trip":"Day trip"},
{"cl":"5","dur":4.6,"km":1.0,"tree":30,"pop":1.9,"trip":"Day trip"},
{"cl":"5","dur":10.2,"km":1.9,"tree":5,"pop":4.5,"trip":"Day trip"},
{"cl":"5","dur":5.0,"km":1.3,"tree":18,"pop":2.8,"trip":"Day trip"},
{"cl":"5","dur":7.8,"km":0.8,"tree":11,"pop":1.8,"trip":"Day trip"},
{"cl":"5","dur":3.4,"km":0.9,"tree":22,"pop":1.45,"trip":"Day trip"},
{"cl":"5","dur":6.1,"km":0.7,"tree":0,"pop":1.35,"trip":"Twilight trip"},
{"cl":"1","dur":8.4,"km":5.5,"tree":62,"pop":0.8,"trip":"Twilight trip"},
{"cl":"1","dur":9.1,"km":6.2,"tree":70,"pop":0.88,"trip":"Twilight trip"},
{"cl":"1","dur":7.6,"km":4.4,"tree":55,"pop":0.7,"trip":"Twilight trip"},
{"cl":"1","dur":10.2,"km":7.5,"tree":66,"pop":1.05,"trip":"Twilight trip"},
{"cl":"1","dur":11.5,"km":9.0,"tree":58,"pop":1.2,"trip":"Twilight trip"},
{"cl":"1","dur":6.8,"km":3.6,"tree":48,"pop":0.55,"trip":"Twilight trip"},
{"cl":"1","dur":12.4,"km":6.0,"tree":75,"pop":0.95,"trip":"Twilight trip"},
{"cl":"1","dur":9.6,"km":4.8,"tree":52,"pop":0.68,"trip":"Twilight trip"},
{"cl":"1","dur":8.0,"km":6.8,"tree":80,"pop":0.92,"trip":"Twilight trip"},
{"cl":"1","dur":10.8,"km":5.2,"tree":45,"pop":0.78,"trip":"Twilight trip"},
{"cl":"1","dur":7.2,"km":5.8,"tree":68,"pop":0.85,"trip":"Twilight trip"},
{"cl":"1","dur":13.2,"km":10.5,"tree":61,"pop":1.4,"trip":"Twilight trip"},
{"cl":"1","dur":8.8,"km":3.9,"tree":72,"pop":0.6,"trip":"Twilight trip"},
{"cl":"1","dur":6.2,"km":4.1,"tree":57,"pop":0.62,"trip":"Twilight trip"},
{"cl":"1","dur":11.0,"km":8.2,"tree":83,"pop":1.1,"trip":"Twilight trip"},
{"cl":"1","dur":9.9,"km":9.5,"tree":50,"pop":1.3,"trip":"Twilight trip"},
{"cl":"1","dur":7.9,"km":3.3,"tree":64,"pop":0.52,"trip":"Twilight trip"},
{"cl":"1","dur":12.0,"km":4.6,"tree":40,"pop":0.7,"trip":"Twilight trip"},
{"cl":"1","dur":10.5,"km":6.5,"tree":88,"pop":0.9,"trip":"Twilight trip"},
{"cl":"1","dur":8.3,"km":7.6,"tree":59,"pop":1.02,"trip":"Twilight trip"},
{"cl":"1","dur":14.2,"km":7.9,"tree":70,"pop":1.15,"trip":"Twilight trip"},
{"cl":"1","dur":9.3,"km":5.0,"tree":35,"pop":0.74,"trip":"Twilight trip"},
{"cl":"1","dur":7.0,"km":6.3,"tree":77,"pop":0.98,"trip":"Twilight trip"},
{"cl":"1","dur":5.8,"km":3.0,"tree":63,"pop":0.45,"trip":"Twilight trip"},
{"cl":"1","dur":10.0,"km":4.2,"tree":67,"pop":0.58,"trip":"Twilight trip"},
{"cl":"1","dur":11.8,"km":11.5,"tree":54,"pop":1.55,"trip":"Twilight trip"},
{"cl":"1","dur":8.6,"km":8.8,"tree":85,"pop":1.18,"trip":"Twilight trip"},
{"cl":"1","dur":6.5,"km":2.6,"tree":46,"pop":0.4,"trip":"Twilight trip"},
{"cl":"1","dur":12.8,"km":8.6,"tree":49,"pop":1.25,"trip":"Twilight trip"},
{"cl":"1","dur":9.4,"km":7.0,"tree":91,"pop":0.97,"trip":"Twilight trip"},
{"cl":"1","dur":7.4,"km":4.9,"tree":39,"pop":0.66,"trip":"Twilight trip"},
{"cl":"1","dur":15.5,"km":9.8,"tree":60,"pop":1.35,"trip":"Twilight trip"},
{"cl":"1","dur":8.1,"km":4.5,"tree":73,"pop":0.64,"trip":"Twilight trip"},
{"cl":"1","dur":10.9,"km":12.0,"tree":69,"pop":1.6,"trip":"Twilight trip"},
{"cl":"1","dur":6.9,"km":5.1,"tree":82,"pop":0.76,"trip":"Twilight trip"},
{"cl":"1","dur":13.8,"km":6.4,"tree":56,"pop":0.88,"trip":"Twilight trip"},
{"cl":"1","dur":9.7,"km":3.6,"tree":44,"pop":0.5,"trip":"Twilight trip"},
{"cl":"1","dur":11.3,"km":5.7,"tree":79,"pop":0.82,"trip":"Twilight trip"},
{"cl":"1","dur":7.7,"km":7.2,"tree":51,"pop":1.08,"trip":"Twilight trip"},
{"cl":"1","dur":8.9,"km":10.0,"tree":65,"pop":1.45,"trip":"Twilight trip"},
{"cl":"1","dur":16.5,"km":13.0,"tree":74,"pop":1.8,"trip":"Twilight trip"},
{"cl":"1","dur":5.5,"km":2.2,"tree":58,"pop":0.35,"trip":"Twilight trip"},
{"cl":"1","dur":12.6,"km":3.8,"tree":62,"pop":0.55,"trip":"Twilight trip"},
{"cl":"1","dur":10.4,"km":8.0,"tree":36,"pop":1.12,"trip":"Twilight trip"},
{"cl":"1","dur":7.3,"km":3.1,"tree":71,"pop":0.48,"trip":"Twilight trip"},
{"cl":"1","dur":9.0,"km":5.9,"tree":94,"pop":0.86,"trip":"Twilight trip"},
{"cl":"1","dur":11.6,"km":6.9,"tree":47,"pop":0.99,"trip":"Twilight trip"},
{"cl":"1","dur":8.2,"km":2.9,"tree":55,"pop":0.44,"trip":"Twilight trip"},
{"cl":"1","dur":14.8,"km":11.0,"tree":86,"pop":1.5,"trip":"Twilight trip"},
{"cl":"1","dur":6.0,"km":4.7,"tree":66,"pop":0.72,"trip":"Twilight trip"},
{"cl":"1","dur":10.1,"km":14.0,"tree":60,"pop":2.4,"trip":"Twilight trip"},
{"cl":"1","dur":12.2,"km":9.2,"tree":38,"pop":3.2,"trip":"Twilight trip"},
{"cl":"1","dur":9.5,"km":6.7,"tree":76,"pop":1.9,"trip":"Twilight trip"},
{"cl":"1","dur":13.5,"km":13.5,"tree":52,"pop":4.9,"trip":"Twilight trip"},
{"cl":"1","dur":11.1,"km":7.4,"tree":68,"pop":2.8,"trip":"Twilight trip"},
{"cl":"1","dur":7.8,"km":6.0,"tree":90,"pop":0.39,"trip":"Twilight trip"},
{"cl":"1","dur":8.5,"km":4.0,"tree":42,"pop":0.34,"trip":"Twilight trip"},
{"cl":"1","dur":10.7,"km":5.4,"tree":63,"pop":0.31,"trip":"Twilight trip"},
{"cl":"1","dur":6.6,"km":3.4,"tree":33,"pop":0.47,"trip":"Twilight trip"},
{"cl":"1","dur":5.9,"km":2.5,"tree":60,"pop":0.24,"trip":"Twilight trip"},
{"cl":"1","dur":9.2,"km":4.3,"tree":57,"pop":0.42,"trip":"Day trip"},
{"cl":"1","dur":8.7,"km":5.6,"tree":83,"pop":0.63,"trip":"Day trip"},
{"cl":"1","dur":10.3,"km":6.1,"tree":89,"pop":0.71,"trip":"Day trip"},
{"cl":"1","dur":7.5,"km":3.7,"tree":55,"pop":0.53,"trip":"Day trip"},
{"cl":"1","dur":3.0,"km":12.0,"tree":65,"pop":0.46,"trip":"Twilight trip"},
{"cl":"1","dur":3.2,"km":14.8,"tree":58,"pop":0.52,"trip":"Twilight trip"},
{"cl":"1","dur":3.9,"km":2.6,"tree":64,"pop":0.48,"trip":"Twilight trip"},
{"cl":"1","dur":4.3,"km":3.4,"tree":50,"pop":0.43,"trip":"Twilight trip"},
{"cl":"1","dur":4.6,"km":2.1,"tree":42,"pop":0.36,"trip":"Twilight trip"},
{"cl":"1","dur":4.0,"km":3.0,"tree":38,"pop":0.58,"trip":"Twilight trip"},
{"cl":"1","dur":5.1,"km":8.5,"tree":55,"pop":0.4,"trip":"Twilight trip"},
{"cl":"1","dur":4.8,"km":4.3,"tree":56,"pop":0.33,"trip":"Twilight trip"},
{"cl":"1","dur":5.3,"km":9.6,"tree":65,"pop":0.65,"trip":"Twilight trip"},
{"cl":"1","dur":12.9,"km":14.2,"tree":95,"pop":1.05,"trip":"Twilight trip"},
{"cl":"1","dur":11.9,"km":3.2,"tree":87,"pop":0.62,"trip":"Twilight trip"},
{"cl":"1","dur":15.0,"km":5.0,"tree":45,"pop":0.9,"trip":"Twilight trip"},
{"cl":"1","dur":13.0,"km":4.4,"tree":30,"pop":0.37,"trip":"Twilight trip"},
{"cl":"1","dur":9.8,"km":15.2,"tree":72,"pop":1.3,"trip":"Twilight trip"},
{"cl":"1","dur":16.0,"km":7.0,"tree":40,"pop":0.8,"trip":"Twilight trip"},
{"cl":"1","dur":8.0,"km":8.4,"tree":90,"pop":1.6,"trip":"Day trip"},
{"cl":"1","dur":9.3,"km":6.5,"tree":63,"pop":0.9,"trip":"Twilight trip"},
{"cl":"1","dur":10.6,"km":7.1,"tree":58,"pop":1.0,"trip":"Twilight trip"},
{"cl":"1","dur":8.7,"km":5.0,"tree":71,"pop":0.75,"trip":"Twilight trip"},
{"cl":"1","dur":11.4,"km":6.3,"tree":66,"pop":0.95,"trip":"Twilight trip"},
{"cl":"1","dur":9.9,"km":5.6,"tree":54,"pop":0.83,"trip":"Twilight trip"},
{"cl":"1","dur":12.1,"km":8.1,"tree":73,"pop":1.2,"trip":"Twilight trip"},
{"cl":"1","dur":8.4,"km":4.6,"tree":48,"pop":0.66,"trip":"Twilight trip"},
{"cl":"1","dur":10.3,"km":9.0,"tree":62,"pop":1.35,"trip":"Twilight trip"},
{"cl":"1","dur":7.7,"km":5.3,"tree":76,"pop":0.8,"trip":"Twilight trip"},
{"cl":"1","dur":11.7,"km":7.7,"tree":57,"pop":1.15,"trip":"Twilight trip"},
{"cl":"1","dur":9.6,"km":6.0,"tree":81,"pop":0.9,"trip":"Twilight trip"},
{"cl":"1","dur":10.9,"km":4.7,"tree":67,"pop":0.72,"trip":"Twilight trip"},
{"cl":"1","dur":8.9,"km":7.4,"tree":59,"pop":1.1,"trip":"Twilight trip"},
{"cl":"1","dur":12.7,"km":6.6,"tree":52,"pop":1.0,"trip":"Twilight trip"},
{"cl":"1","dur":9.2,"km":8.6,"tree":69,"pop":1.25,"trip":"Twilight trip"},
{"cl":"1","dur":10.0,"km":5.3,"tree":43,"pop":0.78,"trip":"Twilight trip"},
{"cl":"1","dur":8.2,"km":6.4,"tree":64,"pop":0.96,"trip":"Twilight trip"},
{"cl":"1","dur":11.2,"km":10.2,"tree":74,"pop":1.45,"trip":"Twilight trip"},
{"cl":"1","dur":13.4,"km":7.2,"tree":61,"pop":1.05,"trip":"Twilight trip"},
{"cl":"1","dur":9.5,"km":4.1,"tree":56,"pop":0.62,"trip":"Twilight trip"},
{"cl":"1","dur":10.8,"km":6.9,"tree":84,"pop":1.0,"trip":"Twilight trip"},
{"cl":"1","dur":8.6,"km":5.8,"tree":47,"pop":0.86,"trip":"Twilight trip"},
{"cl":"1","dur":11.9,"km":5.5,"tree":70,"pop":0.8,"trip":"Twilight trip"},
{"cl":"1","dur":9.0,"km":9.8,"tree":65,"pop":1.4,"trip":"Twilight trip"},
{"cl":"1","dur":12.4,"km":9.6,"tree":55,"pop":1.3,"trip":"Twilight trip"},
{"cl":"1","dur":7.9,"km":4.9,"tree":60,"pop":0.73,"trip":"Twilight trip"},
{"cl":"1","dur":10.4,"km":5.9,"tree":78,"pop":0.87,"trip":"Twilight trip"},
{"cl":"1","dur":9.7,"km":7.8,"tree":50,"pop":1.15,"trip":"Twilight trip"},
{"cl":"1","dur":11.3,"km":8.8,"tree":63,"pop":1.25,"trip":"Twilight trip"},
{"cl":"1","dur":13.0,"km":8.9,"tree":68,"pop":1.2,"trip":"Twilight trip"},
{"cl":"1","dur":8.1,"km":3.8,"tree":72,"pop":0.58,"trip":"Twilight trip"},
{"cl":"1","dur":10.6,"km":11.8,"tree":59,"pop":1.6,"trip":"Twilight trip"},
{"cl":"1","dur":9.4,"km":5.4,"tree":66,"pop":0.8,"trip":"Twilight trip"},
{"cl":"1","dur":11.0,"km":4.9,"tree":53,"pop":0.7,"trip":"Twilight trip"},
{"cl":"1","dur":12.2,"km":7.0,"tree":80,"pop":1.0,"trip":"Twilight trip"},
{"cl":"1","dur":8.8,"km":6.9,"tree":57,"pop":1.02,"trip":"Twilight trip"},
{"cl":"1","dur":10.2,"km":6.4,"tree":45,"pop":0.92,"trip":"Twilight trip"},
{"cl":"1","dur":9.1,"km":4.7,"tree":77,"pop":0.7,"trip":"Twilight trip"},
{"cl":"1","dur":11.6,"km":9.4,"tree":71,"pop":1.35,"trip":"Twilight trip"},
{"cl":"1","dur":7.4,"km":4.2,"tree":62,"pop":0.63,"trip":"Twilight trip"},
{"cl":"1","dur":14.0,"km":9.2,"tree":58,"pop":1.25,"trip":"Twilight trip"},
{"cl":"1","dur":10.5,"km":5.1,"tree":68,"pop":0.76,"trip":"Twilight trip"},
{"cl":"1","dur":9.8,"km":6.7,"tree":61,"pop":0.97,"trip":"Twilight trip"},
{"cl":"1","dur":12.5,"km":5.6,"tree":49,"pop":0.83,"trip":"Twilight trip"},
{"cl":"1","dur":8.5,"km":8.1,"tree":73,"pop":1.18,"trip":"Twilight trip"},
{"cl":"1","dur":11.1,"km":6.1,"tree":56,"pop":0.9,"trip":"Twilight trip"},
{"cl":"1","dur":13.6,"km":12.3,"tree":66,"pop":1.55,"trip":"Twilight trip"},
{"cl":"1","dur":9.9,"km":7.2,"tree":79,"pop":1.05,"trip":"Twilight trip"},
{"cl":"1","dur":10.1,"km":3.9,"tree":64,"pop":0.6,"trip":"Twilight trip"},
{"cl":"1","dur":15.2,"km":8.4,"tree":52,"pop":1.15,"trip":"Twilight trip"},
{"cl":"2","dur":19.9,"km":6.2,"tree":53.3,"pop":1.42,"trip":"Overnight trip"},
{"cl":"2","dur":23.1,"km":20,"tree":62.7,"pop":0.58,"trip":"Overnight trip"},
{"cl":"2","dur":24.8,"km":17,"tree":80.3,"pop":0.63,"trip":"Overnight trip"},
{"cl":"2","dur":25.2,"km":25,"tree":76.4,"pop":0.54,"trip":"Overnight trip"},
{"cl":"2","dur":26.5,"km":21,"tree":89.2,"pop":0.31,"trip":"Overnight trip"},
{"cl":"2","dur":26.9,"km":12,"tree":93.6,"pop":0.2,"trip":"Overnight trip"},
{"cl":"2","dur":27.8,"km":9,"tree":58.7,"pop":0.7,"trip":"Overnight trip"},
{"cl":"2","dur":28.5,"km":18,"tree":66.3,"pop":0.55,"trip":"Overnight trip"},
{"cl":"2","dur":29.1,"km":23,"tree":71.0,"pop":0.93,"trip":"Overnight trip"},
{"cl":"2","dur":29.9,"km":27,"tree":87.9,"pop":0.66,"trip":"Overnight trip"},
{"cl":"2","dur":29.9,"km":15,"tree":79.4,"pop":0.34,"trip":"Overnight trip"},
{"cl":"2","dur":29.9,"km":11,"tree":74.9,"pop":0.47,"trip":"Overnight trip"},
{"cl":"2","dur":31.4,"km":19,"tree":68.4,"pop":0.34,"trip":"Overnight trip"},
{"cl":"2","dur":31.9,"km":30,"tree":86.0,"pop":0.77,"trip":"Overnight trip"},
{"cl":"2","dur":33.0,"km":22,"tree":74.9,"pop":0.61,"trip":"Overnight trip"},
{"cl":"2","dur":33.6,"km":16,"tree":79.6,"pop":0.5,"trip":"Overnight trip"},
{"cl":"2","dur":35.0,"km":25,"tree":80.4,"pop":1.3,"trip":"Overnight trip"},
{"cl":"2","dur":35.9,"km":13,"tree":49.2,"pop":1.05,"trip":"Overnight trip"},
{"cl":"2","dur":36.8,"km":19,"tree":68.0,"pop":0.43,"trip":"Overnight trip"},
{"cl":"2","dur":37.7,"km":28,"tree":79.4,"pop":0.37,"trip":"Overnight trip"},
{"cl":"2","dur":37.7,"km":21,"tree":76.5,"pop":0.5,"trip":"Overnight trip"},
{"cl":"2","dur":37.8,"km":34,"tree":82.1,"pop":1.32,"trip":"Overnight trip"},
{"cl":"2","dur":38.9,"km":14,"tree":39.4,"pop":0.46,"trip":"Overnight trip"},
{"cl":"2","dur":39.3,"km":24,"tree":65.3,"pop":0.62,"trip":"Overnight trip"},
{"cl":"2","dur":48.2,"km":68,"tree":60.4,"pop":0.58,"trip":"Overnight trip"},
{"cl":"2","dur":48.8,"km":30,"tree":74.3,"pop":0.83,"trip":"Overnight trip"},
{"cl":"2","dur":49.8,"km":22,"tree":76.7,"pop":0.79,"trip":"Overnight trip"},
{"cl":"2","dur":51.7,"km":36,"tree":57.6,"pop":0.6,"trip":"Overnight trip"},
{"cl":"2","dur":52.4,"km":27,"tree":80.3,"pop":0.56,"trip":"Overnight trip"},
{"cl":"2","dur":52.6,"km":44,"tree":91.7,"pop":0.8,"trip":"Overnight trip"},
{"cl":"2","dur":52.7,"km":19,"tree":87.6,"pop":0.41,"trip":"Overnight trip"},
{"cl":"2","dur":53.0,"km":31,"tree":76.9,"pop":0.84,"trip":"Overnight trip"},
{"cl":"2","dur":54.0,"km":24,"tree":84.3,"pop":0.31,"trip":"Overnight trip"},
{"cl":"2","dur":54.9,"km":40,"tree":82.7,"pop":0.43,"trip":"Overnight trip"},
{"cl":"2","dur":58.2,"km":33,"tree":84.3,"pop":0.48,"trip":"Overnight trip"},
{"cl":"2","dur":58.2,"km":27,"tree":47.9,"pop":0.4,"trip":"Overnight trip"},
{"cl":"2","dur":59.8,"km":18,"tree":86.3,"pop":1.23,"trip":"Overnight trip"},
{"cl":"2","dur":60.3,"km":48,"tree":73.3,"pop":0.78,"trip":"Overnight trip"},
{"cl":"2","dur":62.1,"km":23,"tree":45.7,"pop":1.41,"trip":"Overnight trip"},
{"cl":"2","dur":64.2,"km":38,"tree":38.0,"pop":1.1,"trip":"Overnight trip"},
{"cl":"2","dur":67.0,"km":29,"tree":6.0,"pop":1.82,"trip":"Overnight trip"},
{"cl":"2","dur":73.6,"km":72,"tree":73.7,"pop":0.42,"trip":"Overnight trip"},
{"cl":"2","dur":76.2,"km":35,"tree":43.9,"pop":0.2,"trip":"Overnight trip"},
{"cl":"2","dur":77.0,"km":26,"tree":83.2,"pop":0.46,"trip":"Overnight trip"},
{"cl":"2","dur":77.2,"km":45,"tree":87.0,"pop":0.32,"trip":"Overnight trip"},
{"cl":"2","dur":77.4,"km":31,"tree":86.0,"pop":0.44,"trip":"Overnight trip"},
{"cl":"2","dur":79.6,"km":20,"tree":90.4,"pop":0.21,"trip":"Overnight trip"},
{"cl":"2","dur":81.2,"km":52,"tree":87.6,"pop":1.08,"trip":"Overnight trip"},
{"cl":"2","dur":82.2,"km":28,"tree":54.6,"pop":0.51,"trip":"Overnight trip"},
{"cl":"2","dur":82.7,"km":38,"tree":40.3,"pop":0.43,"trip":"Overnight trip"},
{"cl":"2","dur":83.2,"km":24,"tree":83.7,"pop":1.16,"trip":"Overnight trip"},
{"cl":"2","dur":87.9,"km":33,"tree":78.4,"pop":0.36,"trip":"Overnight trip"},
{"cl":"2","dur":98.9,"km":40,"tree":44.7,"pop":1.21,"trip":"Overnight trip"},
{"cl":"2","dur":101.4,"km":30,"tree":85.7,"pop":0.49,"trip":"Overnight trip"},
{"cl":"2","dur":103.9,"km":15,"tree":76.4,"pop":0.31,"trip":"Overnight trip"},
{"cl":"2","dur":104.1,"km":36,"tree":88.6,"pop":0.68,"trip":"Overnight trip"},
{"cl":"2","dur":104.5,"km":14,"tree":58.3,"pop":0.23,"trip":"Overnight trip"},
{"cl":"2","dur":104.5,"km":23,"tree":32.2,"pop":0.76,"trip":"Overnight trip"},
{"cl":"2","dur":106.1,"km":42,"tree":91.7,"pop":0.18,"trip":"Overnight trip"},
{"cl":"2","dur":123.6,"km":28,"tree":94.6,"pop":0.16,"trip":"Overnight trip"},
{"cl":"2","dur":124.9,"km":11,"tree":31.3,"pop":0.34,"trip":"Overnight trip"},
{"cl":"2","dur":127.5,"km":62,"tree":86.2,"pop":0.3,"trip":"Overnight trip"},
{"cl":"2","dur":133.0,"km":88,"tree":29.0,"pop":0.83,"trip":"Overnight trip"},
{"cl":"2","dur":135.2,"km":12,"tree":90.3,"pop":0.2,"trip":"Overnight trip"},
{"cl":"2","dur":147.9,"km":76,"tree":82.4,"pop":0.35,"trip":"Overnight trip"},
{"cl":"2","dur":152.2,"km":78,"tree":82.9,"pop":0.29,"trip":"Overnight trip"},
{"cl":"2","dur":173.1,"km":38,"tree":91.6,"pop":0.21,"trip":"Overnight trip"},
{"cl":"2","dur":176.0,"km":45,"tree":85.7,"pop":0.19,"trip":"Overnight trip"},
{"cl":"2","dur":52.6,"km":26,"tree":62,"pop":0.32,"trip":"Overnight trip"},
{"cl":"2","dur":54.5,"km":21,"tree":55,"pop":0.37,"trip":"Overnight trip"},
{"cl":"2","dur":77.3,"km":34,"tree":66,"pop":0.39,"trip":"Overnight trip"},
{"cl":"2","dur":81.4,"km":29,"tree":70,"pop":0.41,"trip":"Overnight trip"},
{"cl":"6","dur":17.5,"km":3.2,"tree":0.2,"pop":0.56,"trip":"Overnight trip"},
{"cl":"6","dur":22.7,"km":5.8,"tree":0,"pop":4.6,"trip":"Overnight trip"},
{"cl":"6","dur":24.6,"km":4.4,"tree":18.1,"pop":0.56,"trip":"Overnight trip"},
{"cl":"6","dur":30.7,"km":54,"tree":38.1,"pop":1.43,"trip":"Overnight trip"},
{"cl":"6","dur":30.8,"km":2.8,"tree":9.5,"pop":1.85,"trip":"Overnight trip"},
{"cl":"6","dur":33.6,"km":14,"tree":36.0,"pop":4.27,"trip":"Overnight trip"},
{"cl":"6","dur":33.9,"km":45,"tree":38.1,"pop":3.47,"trip":"Overnight trip"},
{"cl":"6","dur":34.5,"km":7.3,"tree":26.1,"pop":4.94,"trip":"Overnight trip"},
{"cl":"6","dur":34.9,"km":11,"tree":4.1,"pop":2.2,"trip":"Overnight trip"},
{"cl":"6","dur":41.4,"km":4.9,"tree":30.7,"pop":1.85,"trip":"Overnight trip"},
{"cl":"6","dur":48.0,"km":5.0,"tree":0,"pop":4.58,"trip":"Overnight trip"},
{"cl":"6","dur":48.0,"km":6.2,"tree":0,"pop":4.5,"trip":"Overnight trip"},
{"cl":"6","dur":79.4,"km":22,"tree":0.5,"pop":3.41,"trip":"Overnight trip"},
{"cl":"6","dur":147.9,"km":37,"tree":15.7,"pop":2.53,"trip":"Overnight trip"},
{"cl":"6","dur":207.2,"km":33.7,"tree":0.4,"pop":0.97,"trip":"Overnight trip"}
]
},
"concat": [
{
"width": 831, "height": 520,
"encoding": {
"x": {"field": "dur", "type": "quantitative", "scale": {"type": "log", "domain": [1.638, 262.1], "nice": false, "zero": false},
 "axis": {"title": "Trip duration (h)", "values": [1.732, 3, 5.477, 10, 17.32, 30, 54.77, 100, 173.2],
  "labelExpr": "indexof([3,10,30,100], datum.value) >= 0 ? format(datum.value, '~g') : ''",
  "tickOpacity": {"condition": {"test": "indexof([3,10,30,100], datum.value) < 0", "value": 0}, "value": 1},
  "gridWidth": {"condition": {"test": "indexof([3,10,30,100], datum.value) < 0", "value": 1}, "value": 2}}},
"y": {"field": "km", "type": "quantitative", "scale": {"type": "log", "domain": [0.1516, 118.1], "nice": false, "zero": false},
 "axis": {"title": "Trip distance (km)", "titlePadding": 21, "values": [0.3162, 1, 3.162, 10, 31.62, 100],
  "labelExpr": "indexof([1,10,100], datum.value) >= 0 ? format(datum.value, '~g') : ''",
  "tickOpacity": {"condition": {"test": "indexof([1,10,100], datum.value) < 0", "value": 0}, "value": 1},
  "gridWidth": {"condition": {"test": "indexof([1,10,100], datum.value) < 0", "value": 1}, "value": 2}}}
},
"layer": [
{"data": {"name": "ellA"},
 "mark": {"type": "line", "interpolate": "cardinal-closed", "strokeWidth": 6, "fillOpacity": 0.47, "strokeJoin": "round"},
 "encoding": {
  "order": {"field": "i", "type": "quantitative"},
  "fill": {"field": "cl", "type": "nominal", "scale": {"domain": ["1","3","5","2","4","6"], "range": ["#000000","#EEA000","#22B0EA","#0072B2","#009E73","#E15506"]},
   "legend": {"title": "Cluster", "orient": "none", "legendX": 677, "legendY": -86, "columns": 3, "direction": "horizontal",
    "titleOrient": "left", "titleAngle": 0, "titleAnchor": "middle", "titleBaseline": "middle", "titlePadding": 16,
    "titleFontSize": 30, "titleFontWeight": "normal", "titleColor": "#000000",
    "labelFontSize": 25, "labelColor": "#000000", "labelOffset": 15, "columnPadding": 11, "rowPadding": -26,
    "symbolType": "M-1,-1L1,-1L1,1L-1,1Z M0,-0.04A0.04,0.04 0 1,1 0,0.04A0.04,0.04 0 1,1 0,-0.04Z",
    "symbolSize": 676, "symbolStrokeWidth": 6}},
  "stroke": {"field": "cl", "type": "nominal", "scale": {"domain": ["1","3","5","2","4","6"], "range": ["#000000","#EEA000","#22B0EA","#0072B2","#009E73","#E15506"]},
   "legend": {"title": "Cluster", "orient": "none", "legendX": 677, "legendY": -86, "columns": 3, "direction": "horizontal",
    "titleOrient": "left", "titleAngle": 0, "titleAnchor": "middle", "titleBaseline": "middle", "titlePadding": 16,
    "titleFontSize": 30, "titleFontWeight": "normal", "titleColor": "#000000",
    "labelFontSize": 25, "labelColor": "#000000", "labelOffset": 15, "columnPadding": 11, "rowPadding": -26,
    "symbolType": "M-1,-1L1,-1L1,1L-1,1Z M0,-0.04A0.04,0.04 0 1,1 0,0.04A0.04,0.04 0 1,1 0,-0.04Z",
    "symbolSize": 676, "symbolStrokeWidth": 6}}
 }},
{"data": {"name": "trips"},
 "mark": {"type": "circle", "size": 34, "opacity": 1},
 "encoding": {"color": {"field": "cl", "type": "nominal", "scale": {"domain": ["1","2","3","4","5","6"], "range": ["#000000","#0072B2","#EEA000","#009E73","#22B0EA","#E15506"]}, "legend": null}}}
]
},
{
"width": 831, "height": 520,
"encoding": {
"x": {"field": "dur", "type": "quantitative", "scale": {"type": "log", "domain": [1.638, 262.1], "nice": false, "zero": false},
 "axis": {"title": "Trip duration (h)", "values": [1.732, 3, 5.477, 10, 17.32, 30, 54.77, 100, 173.2],
  "labelExpr": "indexof([3,10,30,100], datum.value) >= 0 ? format(datum.value, '~g') : ''",
  "tickOpacity": {"condition": {"test": "indexof([3,10,30,100], datum.value) < 0", "value": 0}, "value": 1},
  "gridWidth": {"condition": {"test": "indexof([3,10,30,100], datum.value) < 0", "value": 1}, "value": 2}}},
"y": {"field": "tree", "type": "quantitative", "scale": {"domain": [-10.2, 102.4], "nice": false, "zero": false},
 "axis": {"title": "Average tree crown cover along trip", "titlePadding": 22, "values": [0, 12.5, 25, 37.5, 50, 62.5, 75, 87.5, 100],
  "labelExpr": "datum.value % 25 == 0 ? format(datum.value, 'd') : ''",
  "tickOpacity": {"condition": {"test": "datum.value % 25 != 0", "value": 0}, "value": 1},
  "gridWidth": {"condition": {"test": "datum.value % 25 != 0", "value": 1}, "value": 2}}}
},
"layer": [
{"data": {"name": "ellB"},
 "mark": {"type": "line", "interpolate": "cardinal-closed", "strokeWidth": 6, "fillOpacity": 0.47, "strokeJoin": "round"},
 "encoding": {
  "order": {"field": "i", "type": "quantitative"},
  "fill": {"field": "cl", "type": "nominal", "scale": {"domain": ["1","3","5","2","4","6"], "range": ["#000000","#EEA000","#22B0EA","#0072B2","#009E73","#E15506"]}},
  "stroke": {"field": "cl", "type": "nominal", "scale": {"domain": ["1","3","5","2","4","6"], "range": ["#000000","#EEA000","#22B0EA","#0072B2","#009E73","#E15506"]}}
 }},
{"data": {"name": "trips"},
 "mark": {"type": "circle", "size": 34, "opacity": 1},
 "encoding": {"color": {"field": "cl", "type": "nominal", "scale": {"domain": ["1","2","3","4","5","6"], "range": ["#000000","#0072B2","#EEA000","#009E73","#22B0EA","#E15506"]}, "legend": null}}}
]
},
{
"width": 831, "height": 520,
"encoding": {
"x": {"field": "dur", "type": "quantitative", "scale": {"type": "log", "domain": [1.638, 262.1], "nice": false, "zero": false},
 "axis": {"title": "Trip duration (h)", "values": [1.732, 3, 5.477, 10, 17.32, 30, 54.77, 100, 173.2],
  "labelExpr": "indexof([3,10,30,100], datum.value) >= 0 ? format(datum.value, '~g') : ''",
  "tickOpacity": {"condition": {"test": "indexof([3,10,30,100], datum.value) < 0", "value": 0}, "value": 1},
  "gridWidth": {"condition": {"test": "indexof([3,10,30,100], datum.value) < 0", "value": 1}, "value": 2}}},
"y": {"field": "pop", "type": "quantitative", "scale": {"type": "log", "domain": [0.1323, 7.37], "nice": false, "zero": false},
 "axis": {"title": "Average population density along trip", "titlePadding": 27, "values": [0.1732, 0.3, 0.5477, 1, 1.732, 3, 5.477],
  "labelExpr": "indexof([0.3,1,3], datum.value) >= 0 ? format(datum.value, '.1f') : ''",
  "tickOpacity": {"condition": {"test": "indexof([0.3,1,3], datum.value) < 0", "value": 0}, "value": 1},
  "gridWidth": {"condition": {"test": "indexof([0.3,1,3], datum.value) < 0", "value": 1}, "value": 2}}}
},
"layer": [
{"data": {"name": "ellC"},
 "mark": {"type": "line", "interpolate": "cardinal-closed", "strokeWidth": 6, "fillOpacity": 0.47, "strokeJoin": "round"},
 "encoding": {
  "order": {"field": "i", "type": "quantitative"},
  "fill": {"field": "cl", "type": "nominal", "scale": {"domain": ["1","3","5","2","4","6"], "range": ["#000000","#EEA000","#22B0EA","#0072B2","#009E73","#E15506"]}},
  "stroke": {"field": "cl", "type": "nominal", "scale": {"domain": ["1","3","5","2","4","6"], "range": ["#000000","#EEA000","#22B0EA","#0072B2","#009E73","#E15506"]}}
 }},
{"data": {"name": "trips"},
 "mark": {"type": "circle", "size": 34, "opacity": 1},
 "encoding": {"color": {"field": "cl", "type": "nominal", "scale": {"domain": ["1","2","3","4","5","6"], "range": ["#000000","#0072B2","#EEA000","#009E73","#22B0EA","#E15506"]}, "legend": null}}}
]
},
{
"width": 831, "height": 520,
"data": {"name": "trips"},
"mark": {"type": "circle", "size": 34, "opacity": 1},
"encoding": {
"x": {"field": "tree", "type": "quantitative", "scale": {"domain": [-4.7, 102.2], "nice": false, "zero": false},
 "axis": {"title": "Average tree crown cover along trip", "values": [0, 12.5, 25, 37.5, 50, 62.5, 75, 87.5, 100],
  "labelExpr": "datum.value % 25 == 0 ? format(datum.value, 'd') : ''",
  "tickOpacity": {"condition": {"test": "datum.value % 25 != 0", "value": 0}, "value": 1},
  "gridWidth": {"condition": {"test": "datum.value % 25 != 0", "value": 1}, "value": 2}}},
"y": {"field": "trip", "type": "nominal", "scale": {"type": "point", "domain": ["Overnight trip", "Twilight trip", "Day trip"], "padding": 0.6},
 "axis": {"title": null, "labelPadding": 4, "gridWidth": 2}},
"color": {"field": "cl", "type": "nominal", "scale": {"domain": ["1","2","3","4","5","6"], "range": ["#000000","#0072B2","#EEA000","#009E73","#22B0EA","#E15506"]}, "legend": null}
}
}
],
"config": {
"font": "Liberation Sans",
"view": {"fill": "#EBEBEB", "stroke": null},
"axis": {"domain": false, "grid": true, "gridColor": "#FFFFFF", "tickColor": "#333333", "tickWidth": 2, "tickSize": 6,
 "labelColor": "#4D4D4D", "labelFontSize": 23, "labelFont": "Liberation Sans", "labelPadding": 2, "labelOverlap": false, "labelFlush": false,
 "titleFont": "Liberation Sans", "titleFontSize": 27, "titleFontWeight": "normal", "titleColor": "#000000", "titlePadding": 2},
"legend": {"labelFont": "Liberation Sans", "titleFont": "Liberation Sans", "padding": 0},
"circle": {"strokeWidth": 0}
}
}
